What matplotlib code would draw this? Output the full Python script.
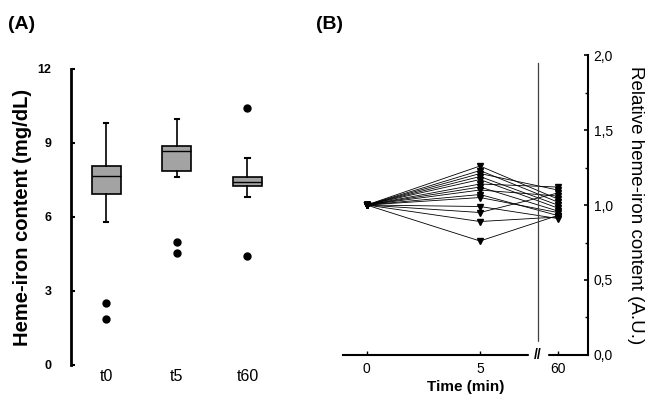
import numpy as np
import matplotlib
matplotlib.use("Agg")
import matplotlib.pyplot as plt
from matplotlib.ticker import FixedLocator, FuncFormatter

plt.rcParams['font.family'] = ['Liberation Sans', 'DejaVu Sans']

# ---- panel A: box plot summary values (mg/dL)
groups = ['t0', 't5', 't60']
q1 = [6.93, 7.88, 7.27]
med = [7.67, 8.67, 7.43]
q3 = [8.08, 8.89, 7.63]
whislo = [5.81, 7.63, 6.82]
whishi = [9.80, 9.96, 8.38]
fliers = [[2.53, 1.86], [5.00, 4.53], [10.43, 4.41]]

# ---- panel B: relative heme-iron content per subject (A.U.)
times = [0, 5, 60]
rel_t0 = [1.0] * 14
rel_t5 = [1.26, 1.23, 1.21, 1.19, 1.17, 1.14, 1.12, 1.10, 1.07, 1.05, 0.99, 0.95, 0.89, 0.76]
rel_t60 = [1.04, 1.02, 1.10, 1.00, 0.98, 1.12, 0.96, 1.06, 0.93, 0.95, 0.91, 1.08, 0.92, 0.93]

fig = plt.figure(figsize=(6.56, 4.08), dpi=100)

# ================= panel A
axA = fig.add_axes([0.108, 0.1054, 0.323, 0.7255])
stats = []
for i, g in enumerate(groups):
    stats.append(dict(label=g, q1=q1[i], med=med[i], q3=q3[i],
                      whislo=whislo[i], whishi=whishi[i], fliers=fliers[i]))
axA.bxp(stats, positions=[1, 2, 3], widths=0.41, patch_artist=True,
        boxprops=dict(facecolor='#a3a3a3', edgecolor='black', linewidth=1.2),
        medianprops=dict(color='black', linewidth=1.0),
        whiskerprops=dict(color='black', linewidth=1.2),
        capprops=dict(color='black', linewidth=1.5),
        capwidths=0.06,
        flierprops=dict(marker='o', markerfacecolor='black', markeredgecolor='black',
                        markersize=5))
axA.set_xlim(0.5, 3.5)
axA.set_ylim(0, 12)
axA.set_yticks([0, 3, 6, 9, 12])
for s in ['top', 'right', 'bottom']:
    axA.spines[s].set_visible(False)
axA.spines['left'].set_linewidth(2.0)
axA.tick_params(axis='y', direction='in', length=3, width=1.5, labelsize=9, pad=14)
for lab in axA.get_yticklabels():
    lab.set_fontweight('bold')
axA.tick_params(axis='x', length=0, labelsize=11.5, pad=3)
axA.set_ylabel('Heme-iron content (mg/dL)', fontsize=14.5, fontweight='bold', labelpad=4)
fig.text(0.012, 0.93, '(A)', fontsize=14, fontweight='bold')

# ================= panel B (broken time axis)
brk, x_cut, x_gap = 6.0, 2.43, 54.0


def fwd(x):
    x = np.asarray(x, dtype=float)
    return np.where(x <= brk, x, brk + (x - brk) * x_cut / x_gap)


def inv(y):
    y = np.asarray(y, dtype=float)
    return np.where(y <= brk, y, brk + (y - brk) * x_gap / x_cut)


axB = fig.add_axes([0.523, 0.130, 0.3735, 0.735])
axB.set_xscale('function', functions=(fwd, inv))
for a, b, c in zip(rel_t0, rel_t5, rel_t60):
    axB.plot(times, [a, b, c], color='black', linewidth=0.6,
             marker='v', markersize=4.5, markerfacecolor='black', markeredgecolor='black')

x_break = float(inv(7.56))
axB.axvline(x_break, ymin=0.035, ymax=0.975, color='#404040', linewidth=0.9)
axB.text(x_break, 0.0, '//', ha='center', va='center', fontsize=10, fontweight='bold',
         backgroundcolor='white', clip_on=False, zorder=5)

axB.set_xlim(float(inv(-1.04)), float(inv(9.77)))
axB.set_ylim(0, 2.0)
axB.xaxis.set_major_locator(FixedLocator(times))
axB.xaxis.set_minor_locator(FixedLocator([]))
axB.set_xticklabels(['0', '5', '60'])
axB.yaxis.tick_right()
axB.yaxis.set_label_position('right')
axB.set_yticks([0, 0.5, 1.0, 1.5, 2.0])
axB.set_yticks([0.25, 0.75, 1.25, 1.75], minor=True)
axB.yaxis.set_major_formatter(FuncFormatter(lambda v, p: f'{v:.1f}'.replace('.', ',')))
for s in ['top', 'left']:
    axB.spines[s].set_visible(False)
axB.spines['right'].set_linewidth(1.5)
axB.spines['bottom'].set_linewidth(1.5)
axB.tick_params(axis='y', which='major', direction='in', length=3, width=1.2, labelsize=10, pad=4)
axB.tick_params(axis='y', which='minor', direction='in', length=2, width=1.0)
axB.tick_params(axis='x', direction='in', length=3, width=1.0, labelsize=10, pad=5)
axB.set_xlabel('Time (min)', fontsize=11, fontweight='bold', labelpad=3)
axB.set_ylabel('Relative heme-iron content (A.U.)', fontsize=13.5, rotation=270, labelpad=22)
fig.text(0.482, 0.93, '(B)', fontsize=14, fontweight='bold')

fig.savefig('out.png', dpi=100)
